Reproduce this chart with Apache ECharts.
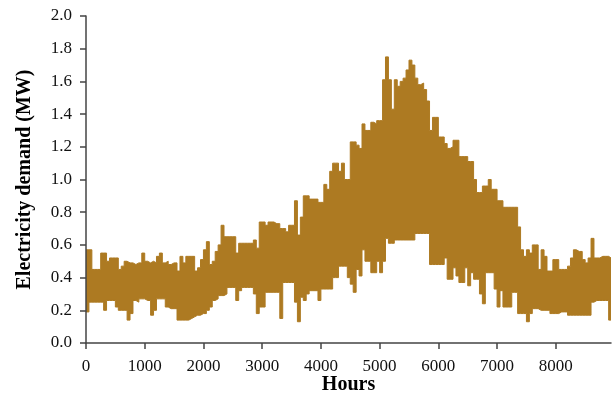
<!DOCTYPE html>
<html>
<head>
<meta charset="utf-8">
<script src="https://cdn.jsdelivr.net/npm/echarts@6/dist/echarts.min.js"></script>
<style>
	html, body { margin: 0; padding: 0; background: #fff; }
	#demand-chart { width: 613px; height: 405px; }
</style>
</head>
<body>
<div id="demand-chart"></div>
<script>
	var binSize = 50;
	var lastHour = 8940;
	var hiVals = [
		0.57, 0.57, 0.45, 0.45, 0.45, 0.55, 0.55, 0.50, 0.52, 0.52,
		0.52, 0.45, 0.47, 0.50, 0.49, 0.49, 0.48, 0.49, 0.49, 0.55,
		0.50, 0.49, 0.50, 0.49, 0.53, 0.55, 0.49, 0.50, 0.48, 0.49,
		0.49, 0.44, 0.53, 0.49, 0.53, 0.53, 0.53, 0.44, 0.46, 0.51,
		0.57, 0.62, 0.48, 0.50, 0.56, 0.60, 0.72, 0.65, 0.65, 0.65,
		0.65, 0.55, 0.61, 0.61, 0.61, 0.61, 0.61, 0.63, 0.58, 0.74,
		0.74, 0.72, 0.74, 0.74, 0.73, 0.73, 0.70, 0.70, 0.68, 0.72,
		0.72, 0.87, 0.66, 0.77, 0.90, 0.90, 0.88, 0.88, 0.88, 0.86,
		0.86, 0.97, 0.94, 1.05, 1.10, 1.10, 1.05, 1.10, 1.00, 1.00,
		1.23, 1.23, 1.21, 1.19, 1.34, 1.30, 1.30, 1.35, 1.34, 1.36,
		1.36, 1.61, 1.75, 1.61, 1.43, 1.61, 1.57, 1.60, 1.62, 1.67,
		1.73, 1.70, 1.62, 1.58, 1.59, 1.55, 1.48, 1.30, 1.38, 1.38,
		1.26, 1.26, 1.22, 1.19, 1.20, 1.24, 1.24, 1.14, 1.14, 1.14,
		1.11, 1.11, 1.00, 0.92, 0.92, 0.96, 0.96, 1.00, 0.94, 0.94,
		0.87, 0.87, 0.83, 0.83, 0.83, 0.83, 0.83, 0.71, 0.57, 0.53,
		0.57, 0.55, 0.60, 0.60, 0.45, 0.57, 0.53, 0.44, 0.44, 0.51,
		0.51, 0.45, 0.45, 0.45, 0.47, 0.52, 0.57, 0.56, 0.56, 0.51,
		0.49, 0.52, 0.64, 0.52, 0.52, 0.53, 0.53, 0.53, 0.52
	];
	var loVals = [
		0.19, 0.25, 0.25, 0.25, 0.25, 0.25, 0.20, 0.26, 0.26, 0.26,
		0.22, 0.20, 0.20, 0.20, 0.14, 0.18, 0.26, 0.25, 0.27, 0.27,
		0.26, 0.26, 0.17, 0.20, 0.27, 0.27, 0.27, 0.22, 0.21, 0.21,
		0.21, 0.14, 0.14, 0.14, 0.14, 0.15, 0.16, 0.17, 0.17, 0.18,
		0.18, 0.20, 0.22, 0.26, 0.27, 0.29, 0.29, 0.30, 0.34, 0.34,
		0.34, 0.26, 0.32, 0.34, 0.34, 0.34, 0.34, 0.30, 0.18, 0.22,
		0.22, 0.31, 0.31, 0.31, 0.31, 0.31, 0.15, 0.37, 0.37, 0.37,
		0.37, 0.25, 0.13, 0.28, 0.26, 0.30, 0.32, 0.32, 0.32, 0.26,
		0.33, 0.33, 0.33, 0.33, 0.40, 0.40, 0.47, 0.47, 0.47, 0.40,
		0.36, 0.31, 0.45, 0.41, 0.57, 0.50, 0.50, 0.43, 0.43, 0.50,
		0.43, 0.50, 0.64, 0.61, 0.61, 0.63, 0.63, 0.63, 0.63, 0.63,
		0.63, 0.63, 0.67, 0.67, 0.67, 0.67, 0.67, 0.48, 0.48, 0.48,
		0.48, 0.48, 0.52, 0.39, 0.39, 0.46, 0.41, 0.37, 0.37, 0.46,
		0.35, 0.43, 0.39, 0.39, 0.30, 0.24, 0.43, 0.43, 0.43, 0.33,
		0.22, 0.32, 0.22, 0.22, 0.22, 0.31, 0.31, 0.18, 0.18, 0.18,
		0.13, 0.18, 0.21, 0.21, 0.20, 0.20, 0.20, 0.20, 0.18, 0.18,
		0.18, 0.19, 0.19, 0.19, 0.17, 0.17, 0.17, 0.17, 0.17, 0.17,
		0.17, 0.17, 0.25, 0.26, 0.26, 0.26, 0.26, 0.26, 0.14
	];
	var xTicks = [0, 1000, 2000, 3000, 4000, 5000, 6000, 7000, 8000];

	var lineColor = '#ad7a22';
	var serif = 'Liberation Serif';

	function toPoints(vals) {
		var arr = [];
		vals.map(function(v, i) {
			arr.push([i * binSize, v]);
		});
		arr.push([lastHour, vals[vals.length - 1]]);
		return arr;
	}

	var chart = echarts.init(document.getElementById('demand-chart'), null, { renderer: 'canvas' });
	var option = {
		animation: false,
		backgroundColor: '#fff',
		grid: {
			left: 86,
			right: 2,
			top: 16,
			bottom: 62,
			containLabel: false
		},
		xAxis: {
			type: 'value',
			z: 10,
			min: 0,
			max: lastHour,
			interval: 1000,
			name: 'Hours',
			nameLocation: 'middle',
			nameGap: 32,
			nameMoveOverlap: false,
			nameTextStyle: { fontFamily: serif, fontWeight: 'bold', fontSize: 20, color: '#000' },
			axisLine: { show: true, lineStyle: { color: '#444', width: 1.5 } },
			axisTick: { show: true, length: 6, customValues: xTicks, lineStyle: { color: '#444', width: 1.5 } },
			axisLabel: {
				customValues: xTicks,
				margin: 15,
				fontFamily: serif,
				fontSize: 17,
				color: '#111',
				formatter: function(v) { return String(v); }
			},
			splitLine: { show: false }
		},
		yAxis: {
			type: 'value',
			z: 10,
			min: 0,
			max: 2,
			interval: 0.2,
			name: 'Electricity demand (MW)',
			nameLocation: 'middle',
			nameGap: 51,
			nameMoveOverlap: false,
			nameTextStyle: { fontFamily: serif, fontWeight: 'bold', fontSize: 20, color: '#000' },
			axisLine: { show: true, lineStyle: { color: '#444', width: 1.5 } },
			axisTick: { show: true, length: 6, lineStyle: { color: '#444', width: 1.5 } },
			axisLabel: {
				margin: 14,
				fontFamily: serif,
				fontSize: 17,
				color: '#111',
				formatter: function(v) { return v.toFixed(1); }
			},
			splitLine: { show: false }
		},
		series: [{
				// upper envelope, filled down to the axis
				name: 'high',
				type: 'line',
				step: 'end',
				showSymbol: false,
				lineStyle: { color: lineColor, width: 1 },
				areaStyle: { color: lineColor, opacity: 1 },
				data: toPoints(hiVals)
			},
			{
				// lower envelope, white underneath so only the band stays
				name: 'low',
				type: 'line',
				step: 'end',
				showSymbol: false,
				lineStyle: { color: lineColor, width: 1 },
				areaStyle: { color: '#fff', opacity: 1 },
				data: toPoints(loVals)
			}
		]
	};
	chart.setOption(option);
</script>
</body>
</html>
